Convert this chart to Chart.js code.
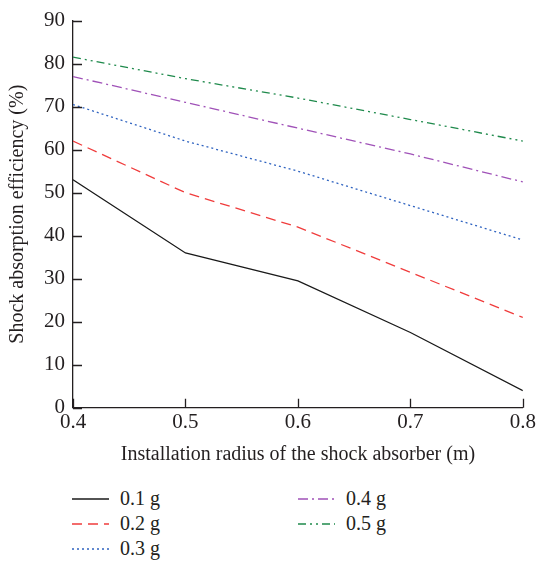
<!DOCTYPE html>
<html>
<head>
<meta charset="utf-8">
<script src="https://cdn.jsdelivr.net/npm/chart.js@4/dist/chart.umd.min.js"></script>
<style>
    html, body { margin: 0; padding: 0; background: #fff; }
    #wrap { position: relative; width: 538px; height: 564px; }
    #chartBox { position: absolute; left: 0; top: 0; width: 538px; height: 467px; }
    .legend-item { position: absolute; font-family: "Liberation Serif", serif; font-size: 20px; color: #231f20; line-height: 22px; }
    .legend-item svg { position: absolute; left: 0; top: 10px; }
    .legend-item span { position: absolute; left: 48px; top: 0; white-space: nowrap; }
</style>
</head>
<body>
<div id="wrap">
    <div id="chartBox"><canvas id="efficiencyChart"></canvas></div>
    <div id="legend"></div>
</div>
<script>
const radii = [0.4, 0.5, 0.6, 0.7, 0.8];
const seriesNames = ['0.1 g', '0.2 g', '0.3 g', '0.4 g', '0.5 g'];
const eff01 = [53, 36, 29.5, 17.5, 4];
const eff02 = [62, 50, 42, 31.5, 21];
const eff03 = [70.5, 62, 55, 47, 39];
const eff04 = [77, 71, 65, 59, 52.5];
const eff05 = [81.5, 76.5, 72, 67, 62];
const yTicks = [0, 10, 20, 30, 40, 50, 60, 70, 80, 90];
const xTicks = [0.4, 0.5, 0.6, 0.7, 0.8];

const seriesValues = [eff01, eff02, eff03, eff04, eff05];
const colors = ['#1a1a1a', '#f03c3c', '#2f63c0', '#a052b8', '#1f8a4c'];
const dashes = [[], [10, 6], [2, 3], [10, 4, 2, 4], [8, 4, 2, 4, 2, 4]];

const serif = '"Liberation Serif", serif';
const ink = '#231f20';

// short inward tick marks like the original plot
const innerTicks = {
    id: 'innerTicks',
    afterDraw(chart) {
        const { ctx, scales: { x, y } } = chart;
        ctx.save();
        ctx.strokeStyle = ink;
        ctx.lineWidth = 1.3;
        ctx.beginPath();
        yTicks.forEach(v => {
            const py = Math.round(y.getPixelForValue(v)) + 0.5;
            ctx.moveTo(x.left, py);
            ctx.lineTo(x.left + 9, py);
        });
        xTicks.forEach(v => {
            const px = Math.round(x.getPixelForValue(v)) + 0.5;
            ctx.moveTo(px, y.bottom);
            ctx.lineTo(px, y.bottom - 9);
        });
        ctx.stroke();
        ctx.restore();
    }
};

const ctx = document.getElementById('efficiencyChart').getContext('2d');
new Chart(ctx, {
    type: 'line',
    data: {
        datasets: seriesNames.map((name, i) => ({
            label: name,
            data: radii.map((r, j) => ({ x: r, y: seriesValues[i][j] })),
            borderColor: colors[i],
            borderWidth: 1.3,
            borderDash: dashes[i],
            pointRadius: 0,
            tension: 0,
            fill: false
        }))
    },
    options: {
        responsive: true,
        maintainAspectRatio: false,
        animation: false,
        layout: { padding: { top: 1, right: 11, left: 6, bottom: 0 } },
        plugins: {
            legend: { display: false },
            tooltip: { enabled: false }
        },
        scales: {
            x: {
                type: 'linear',
                min: 0.4,
                max: 0.8,
                afterBuildTicks: scale => { scale.ticks = xTicks.map(v => ({ value: v })); },
                ticks: {
                    color: ink,
                    font: { family: serif, size: 21 },
                    padding: 2,
                    callback: v => v.toFixed(1)
                },
                grid: { display: false, drawTicks: false },
                border: { display: true, color: ink, width: 1.3 },
                title: {
                    display: true,
                    text: 'Installation radius of the shock absorber (m)',
                    color: ink,
                    font: { family: serif, size: 20 },
                    padding: { top: 6, bottom: 0 }
                }
            },
            y: {
                min: 0,
                max: 90,
                afterBuildTicks: scale => { scale.ticks = yTicks.map(v => ({ value: v })); },
                ticks: {
                    color: ink,
                    font: { family: serif, size: 21 },
                    padding: 8
                },
                grid: { display: false, drawTicks: false },
                border: { display: true, color: ink, width: 1.3 },
                title: {
                    display: true,
                    text: 'Shock absorption efficiency (%)',
                    color: ink,
                    font: { family: serif, size: 20 },
                    padding: { top: 0, bottom: 6 }
                }
            }
        }
    },
    plugins: [innerTicks]
});

// legend in two columns, filled column by column
const legendPos = [[72, 487], [72, 512], [72, 537], [298, 487], [298, 512]];
const legendEl = document.getElementById('legend');
seriesNames.forEach((name, i) => {
    const item = document.createElement('div');
    item.className = 'legend-item';
    item.style.left = legendPos[i][0] + 'px';
    item.style.top = legendPos[i][1] + 'px';
    item.innerHTML =
        '<svg width="38" height="4"><line x1="0" y1="2" x2="37" y2="2" stroke="' + colors[i] +
        '" stroke-width="1.4" stroke-dasharray="' + dashes[i].join(',') + '"/></svg>' +
        '<span>' + name + '</span>';
    legendEl.appendChild(item);
});
</script>
</body>
</html>
